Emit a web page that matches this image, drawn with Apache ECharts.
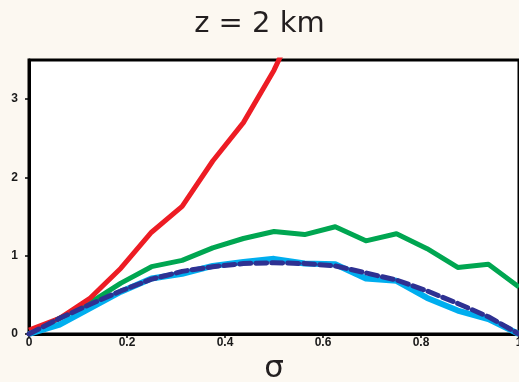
<!DOCTYPE html>
<html>
<head>
<meta charset="utf-8">
<script src="https://cdn.jsdelivr.net/npm/echarts@6/dist/echarts.min.js"></script>
<style>
  html, body { margin: 0; padding: 0; background: #fcf8f1; }
  #chart { width: 519px; height: 382px; }
</style>
</head>
<body>
<div id="chart"></div>
<script>
// Sample positions in sigma (1/16 spacing)
const sigma = [0, 0.0625, 0.125, 0.1875, 0.25, 0.3125, 0.375, 0.4375, 0.5,
               0.5625, 0.625, 0.6875, 0.75, 0.8125, 0.875, 0.9375, 1];

// Profiles at z = 2 km
const redVals   = [0.05, 0.2, 0.46, 0.84, 1.3, 1.63, 2.21, 2.7, 3.37, 4.2];
const greenVals = [0, 0.2, 0.4, 0.65, 0.86, 0.94, 1.1, 1.22, 1.31,
                   1.27, 1.37, 1.19, 1.28, 1.09, 0.85, 0.89, 0.6];
const cyanVals  = [0, 0.12, 0.33, 0.54, 0.71, 0.77, 0.87, 0.92, 0.96,
                   0.9, 0.89, 0.71, 0.68, 0.46, 0.3, 0.19, 0];
const navyVals  = [0, 0.2, 0.38, 0.55, 0.7, 0.8, 0.86, 0.9, 0.91,
                   0.9, 0.87, 0.78, 0.69, 0.55, 0.39, 0.22, 0];

const xTicks = [0, 0.2, 0.4, 0.6, 0.8, 1];
const yTicks = [0, 1, 2, 3];

const pairs = vals => vals.map((v, i) => [sigma[i], v]);

const chart = echarts.init(document.getElementById('chart'));

function lineSeries(vals, color, width, extra) {
  return Object.assign({
    type: 'line',
    data: pairs(vals),
    symbol: 'none',
    clip: true,
    lineStyle: { color: color, width: width, join: 'round' }
  }, extra || {});
}

const tickFont = { fontFamily: 'Liberation Sans', fontSize: 12, fontWeight: 'bold', color: '#1a1a1a' };

chart.setOption({
  backgroundColor: '#fcf8f1',
  animation: false,
  title: {
    text: 'z = 2 km',
    left: 'center',
    top: 5,
    textStyle: { fontFamily: 'DejaVu Sans', fontSize: 29, fontWeight: 'normal', color: '#231f20' }
  },
  grid: {
    left: 29, right: 0, top: 60, bottom: 48,
    outerBoundsMode: 'none',
    show: true,
    backgroundColor: '#ffffff',
    borderColor: '#000000',
    borderWidth: 3
  },
  xAxis: {
    type: 'value',
    min: 0, max: 1, interval: 0.2,
    name: 'σ',
    nameLocation: 'middle',
    nameGap: 16,
    nameTextStyle: { fontFamily: 'DejaVu Sans', fontSize: 31, color: '#231f20' },
    axisLine: { show: true, lineStyle: { color: '#000', width: 3 } },
    axisTick: { show: true, length: 4, lineStyle: { color: '#000', width: 1.5 },
                customValues: xTicks },
    axisLabel: Object.assign({
      customValues: xTicks,
      margin: 3,
      formatter: v => String(Math.round(v * 10) / 10)
    }, tickFont),
    splitLine: { show: false }
  },
  yAxis: {
    type: 'value',
    min: 0, max: 3.5, interval: 1,
    axisLine: { show: true, lineStyle: { color: '#000', width: 3 } },
    axisTick: { show: true, length: 4, lineStyle: { color: '#000', width: 1.5 },
                customValues: yTicks },
    axisLabel: Object.assign({
      customValues: yTicks,
      margin: 11,
      formatter: v => String(v)
    }, tickFont),
    splitLine: { show: false }
  },
  series: [
    lineSeries(greenVals, '#00a651', 5),
    lineSeries(redVals, '#ed1c24', 5),
    lineSeries(cyanVals, '#00aeef', 6),
    lineSeries(navyVals, '#2e3192', 5, {
      lineStyle: { color: '#2e3192', width: 5, type: [11, 5], cap: 'round', join: 'round' }
    })
  ]
});
</script>
</body>
</html>
